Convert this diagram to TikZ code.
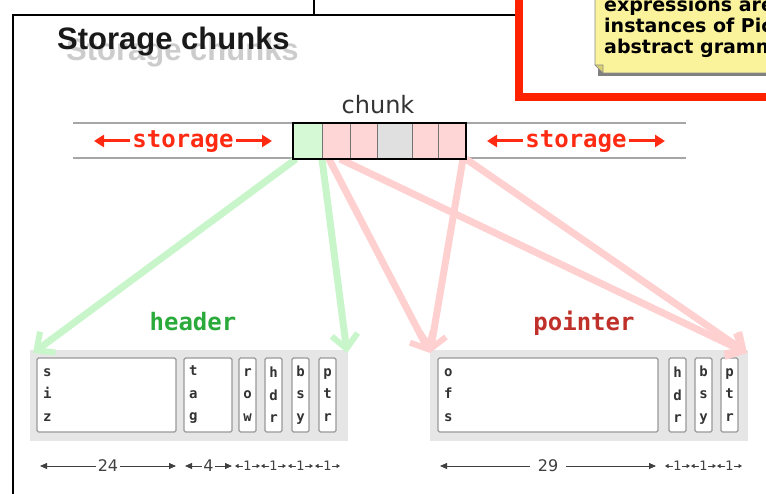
\documentclass[tikz,border=0pt]{standalone}
\usepackage{fontspec}
\usetikzlibrary{arrows.meta}
\newfontfamily\lsans{Liberation Sans}
\newfontfamily\dvsans{DejaVu Sans}
\newfontfamily\dvmono{DejaVu Sans Mono}
\definecolor{cellgreen}{HTML}{D5F8D5}
\definecolor{cellpink}{HTML}{FFD6D6}
\definecolor{cellgray}{HTML}{E0E0E0}
\definecolor{arrgreen}{HTML}{C8F6CA}
\definecolor{arrpink}{HTML}{FFD0D0}
\definecolor{hdrgreen}{HTML}{2AAA3A}
\definecolor{ptrred}{HTML}{C0302A}
\definecolor{brightred}{HTML}{FF2A12}
\definecolor{boxred}{HTML}{FF2200}
\definecolor{groupgray}{HTML}{E6E6E6}
\definecolor{noteyellow}{HTML}{FBF39C}
\definecolor{notefold}{HTML}{D9CF6E}
\begin{document}
\begin{tikzpicture}[x=1pt,y=-1pt,
  cell/.style={draw=black!55, line width=0.8pt, minimum height=36pt,
    inner sep=0pt, outer sep=0pt, anchor=north west},
  groupbg/.style={fill=groupgray, inner sep=0pt, outer sep=0pt,
    minimum height=91pt, anchor=north west},
  fieldbox/.style={fill=white, draw=black!40, line width=1.1pt,
    rounded corners=1.5pt, inner sep=0pt, outer sep=0pt,
    minimum height=74pt, anchor=north west},
  fieldtext/.style={font=\dvmono\bfseries\fontsize{14}{22.5}\selectfont,
    text=black!80, inner sep=0pt},
  groupname/.style={font=\dvmono\bfseries\fontsize{24}{28}\selectfont, anchor=base},
  storelbl/.style={font=\dvmono\bfseries\fontsize{24}{28}\selectfont,
    text=brightred, anchor=base, inner sep=2pt},
  storearrow/.style={draw=brightred, line width=3pt,
    -{Triangle[length=10pt,width=12pt]}},
  storeline/.style={draw=black!35, line width=1.5pt},
  bigarrow/.style={line width=7pt,
    -{Straight Barb[length=14pt,width=26pt,line width=6pt]}},
  dim/.style={draw=black!75, line width=0.8pt,
    {Triangle[length=7pt,width=6pt]}-{Triangle[length=7pt,width=6pt]}},
  smalldim/.style={draw=black!75, line width=0.8pt,
    {Triangle[length=3.5pt,width=4pt]}-{Triangle[length=3.5pt,width=4pt]}},
  dimlabel/.style={fill=white, inner sep=1.5pt,
    font=\dvsans\fontsize{16}{18}\selectfont, text=black!75},
  notetext/.style={font=\dvsans\bfseries\fontsize{19}{21}\selectfont,
    anchor=base west, inner sep=0pt}
]
\useasboundingbox (0,0) rectangle (766,494);
\clip (0,0) rectangle (766,494);

% ---- surrounding frame and the neighbouring panels ----
\draw[line width=2pt] (13,500) -- (13,15) -- (520,15);
\draw[line width=2pt] (314,-2) -- (314,15);
\fill[black!50] (598,-10) rectangle (780,76);
\fill[noteyellow] (595,-10) -- (780,-10) -- (780,73) -- (603,73) -- (595,65) -- cycle;
\draw[black!45, line width=0.6pt] (780,73) -- (603,73) -- (595,65) -- (595,-10);
\fill[notefold, draw=black!45, line width=0.6pt] (595,65) -- (603,65) -- (603,73) -- cycle;
\node[notetext] (note1) at (604,12) {expressions are};
\node[notetext] (note2) at (604,33) {instances of Pic};
\node[notetext] (note3) at (604,54) {abstract gramm};
\draw[boxred, line width=8pt] (519,-10) -- (519,97) -- (780,97);

% ---- title with its drop shadow ----
\node[anchor=base west, inner sep=0pt, text=black!20,
  font=\lsans\bfseries\fontsize{31}{36}\selectfont] (titleshadow) at (66,61) {Storage chunks};
\node[anchor=base west, inner sep=0pt, text=black!90,
  font=\lsans\bfseries\fontsize{31}{36}\selectfont] (title) at (57,50) {Storage chunks};

% ---- storage band ----
\coordinate (bandTL) at (73,123);
\coordinate (bandTR) at (686,123);
\coordinate (bandBL) at (73,158);
\coordinate (bandBR) at (686,158);
\draw[storeline] (bandTL) -- (bandTR);
\draw[storeline] (bandBL) -- (bandBR);

\node[storelbl] (storeL) at (183,148) {storage};
\node[storelbl] (storeR) at (576,148) {storage};
\coordinate (storeLa) at (94,141);
\coordinate (storeLb) at (272,141);
\coordinate (storeRa) at (487,141);
\coordinate (storeRb) at (665,141);
\draw[storearrow] (storeL.west |- storeLa) -- (storeLa);
\draw[storearrow] (storeL.east |- storeLb) -- (storeLb);
\draw[storearrow] (storeR.west |- storeRa) -- (storeRa);
\draw[storearrow] (storeR.east |- storeRb) -- (storeRb);

\node[anchor=base, inner sep=0pt, text=black!80,
  font=\dvsans\fontsize{24}{28}\selectfont] (chunklbl) at (378,114) {chunk};

% ---- header and pointer layouts ----
\node[groupbg, minimum width=318pt] (hbg) at (30,350) {};
\node[groupbg, minimum width=318pt] (pbg) at (430,350) {};

\node[groupname, text=hdrgreen] (hname) at (193,331) {header};
\node[groupname, text=ptrred] (pname) at (584,331) {pointer};

\node[fieldbox, minimum width=139pt] (siz) at (37,358) {};
\node[fieldbox, minimum width=48pt] (tag) at (184,358) {};
\node[fieldbox, minimum width=17pt] (row) at (239,358) {};
\node[fieldbox, minimum width=17pt] (hdr) at (265,358) {};
\node[fieldbox, minimum width=17pt] (bsy) at (292,358) {};
\node[fieldbox, minimum width=17pt] (ptr) at (319,358) {};

\node[fieldbox, minimum width=220pt] (ofs) at (438,358) {};
\node[fieldbox, minimum width=17pt] (phdr) at (669,358) {};
\node[fieldbox, minimum width=17pt] (pbsy) at (695,358) {};
\node[fieldbox, minimum width=17pt] (pptr) at (721,358) {};

\node[fieldtext, anchor=west, align=left] (sizt) at ([xshift=6pt]siz.west) {s\\i\\z};
\node[fieldtext, anchor=west, align=left] (tagt) at ([xshift=5pt]tag.west) {t\\a\\g};
\node[fieldtext, align=center] (rowt) at (row.center) {r\\o\\w};
\node[fieldtext, align=center] (hdrt) at (hdr.center) {h\\d\\r};
\node[fieldtext, align=center] (bsyt) at (bsy.center) {b\\s\\y};
\node[fieldtext, align=center] (ptrt) at (ptr.center) {p\\t\\r};
\node[fieldtext, anchor=west, align=left] (ofst) at ([xshift=6pt]ofs.west) {o\\f\\s};
\node[fieldtext, align=center] (phdrt) at (phdr.center) {h\\d\\r};
\node[fieldtext, align=center] (pbsyt) at (pbsy.center) {b\\s\\y};
\node[fieldtext, align=center] (pptrt) at (pptr.center) {p\\t\\r};

% ---- field widths ----
\draw[dim] ([xshift=3pt,yshift=-34pt]siz.south west) -- ([yshift=-34pt]siz.south east)
  node[dimlabel, midway] (w24) {24};
\draw[dim] ([xshift=1pt,yshift=-34pt]tag.south west) -- ([yshift=-34pt]tag.south east)
  node[dimlabel, midway] (w4) {4};
\foreach \f in {row,hdr,bsy,ptr,phdr,pbsy,pptr}{
  \draw[smalldim] ([xshift=-4pt,yshift=-34pt]\f.south west) -- ([xshift=4pt,yshift=-34pt]\f.south east)
    node[dimlabel, midway, inner sep=0.8pt, font=\dvsans\fontsize{13}{15}\selectfont] (w\f) {1};
}
\draw[dim] ([xshift=2pt,yshift=-34pt]ofs.south west) -- ([xshift=-2pt,yshift=-34pt]ofs.south east)
  node[dimlabel, midway, inner xsep=8pt] (w29) {29};

% ---- chunk cells ----
\node[cell, fill=cellgreen, minimum width=29pt] (c1) at (293,123) {};
\node[cell, fill=cellpink, minimum width=28pt] (c2) at (322,123) {};
\node[cell, fill=cellpink, minimum width=27pt] (c3) at (350,123) {};
\node[cell, fill=cellgray, minimum width=35pt] (c4) at (377,123) {};
\node[cell, fill=cellpink, minimum width=26pt] (c5) at (412,123) {};
\node[cell, fill=cellpink, minimum width=28pt] (c6) at (438,123) {};

% ---- expansion arrows from the chunk to the layouts ----
\draw[bigarrow, arrgreen] ([xshift=3pt]c1.south west) -- ([xshift=3pt,yshift=-3pt]hbg.north west);
\draw[bigarrow, arrgreen] (c1.south east) -- ([xshift=-1pt,yshift=-3pt]hbg.north east);
\draw[bigarrow, arrpink] ([xshift=7pt]c2.south west) -- ([yshift=-3pt]pbg.north west);
\draw[bigarrow, arrpink] ([xshift=18pt]c2.south west) -- ([xshift=-1pt,yshift=-3pt]pbg.north east);
\draw[bigarrow, arrpink] ([xshift=-3pt]c6.south east) -- ([yshift=-3pt]pbg.north west);
\draw[bigarrow, arrpink] (c6.south east) -- ([xshift=-1pt,yshift=-3pt]pbg.north east);

% redraw the cells on top of the arrow roots
\foreach \c/\col in {c1/cellgreen,c2/cellpink,c3/cellpink,c4/cellgray,c5/cellpink,c6/cellpink}{
  \draw[draw=black!55, line width=0.8pt, fill=\col] (\c.north west) rectangle (\c.south east);
}
\draw[line width=2pt] (c1.north west) rectangle (c6.south east);
\end{tikzpicture}
\end{document}
